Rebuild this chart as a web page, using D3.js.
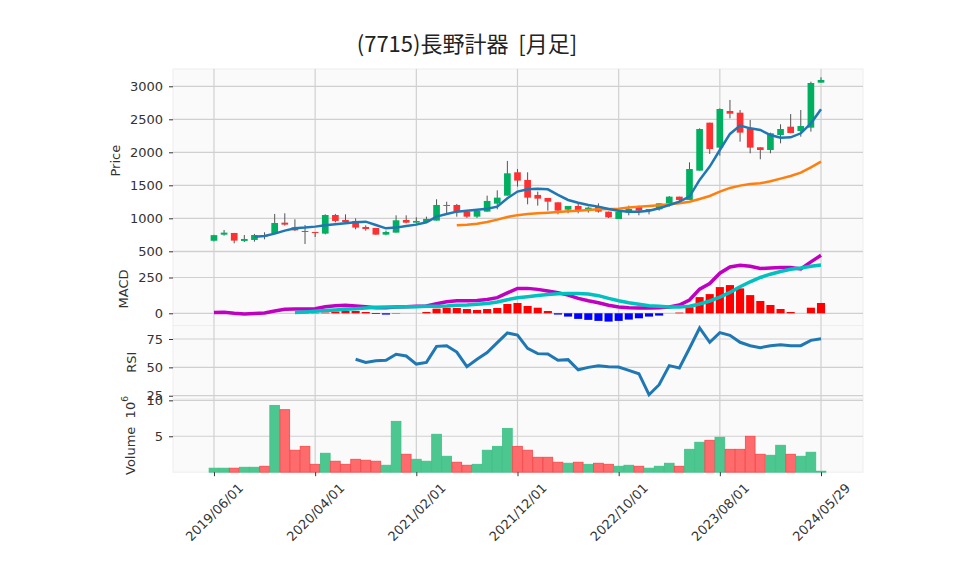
<!DOCTYPE html>
<html>
<head>
<meta charset="utf-8">
<script src="https://cdn.jsdelivr.net/npm/d3@7"></script>
<style>
  body { margin: 0; background: #fff; }
  text { font-family: "DejaVu Sans", sans-serif; fill: #333; }
  .title { font-family: "Noto Sans CJK JP", sans-serif; fill: #222; white-space: pre; }
</style>
</head>
<body>
<svg id="chart" width="958" height="575"></svg>
<script>
// monthly bars, last one is the partial month end
const dates = [
  "2019/06/01","2019/07/01","2019/08/01","2019/09/01","2019/10/01","2019/11/01","2019/12/01",
  "2020/01/01","2020/02/01","2020/03/01","2020/04/01","2020/05/01","2020/06/01","2020/07/01",
  "2020/08/01","2020/09/01","2020/10/01","2020/11/01","2020/12/01","2021/01/01","2021/02/01",
  "2021/03/01","2021/04/01","2021/05/01","2021/06/01","2021/07/01","2021/08/01","2021/09/01",
  "2021/10/01","2021/11/01","2021/12/01","2022/01/01","2022/02/01","2022/03/01","2022/04/01",
  "2022/05/01","2022/06/01","2022/07/01","2022/08/01","2022/09/01","2022/10/01","2022/11/01",
  "2022/12/01","2023/01/01","2023/02/01","2023/03/01","2023/04/01","2023/05/01","2023/06/01",
  "2023/07/01","2023/08/01","2023/09/01","2023/10/01","2023/11/01","2023/12/01","2024/01/01",
  "2024/02/01","2024/03/01","2024/04/01","2024/05/01","2024/05/29"
];
const opens = [660,752,778,657,672,740,768,934,864,808,793,768,1050,975,960,869,854,753,783,975,
  934,944,965,1187,1202,1101,1025,1101,1222,1343,1697,1581,1354,1308,1242,1131,1187,1116,1177,1101,
  990,1086,1177,1111,1136,1227,1328,1278,1722,2449,2071,2626,2600,2363,2076,2035,2262,2388,2323,2373,3055];
const highs = [750,823,778,747,763,788,1066,1076,985,899,793,1060,1066,1060,1000,894,854,813,1045,1045,
  1015,1025,1288,1252,1217,1101,1116,1343,1424,1869,1747,1697,1404,1308,1242,1187,1237,1177,1227,1101,
  1101,1192,1192,1141,1227,1338,1328,1848,2363,2449,2666,2793,2641,2490,2076,2298,2424,2580,2641,3070,3136];
const lows = [650,737,621,641,646,682,768,889,808,611,717,757,939,924,833,813,748,742,783,924,
  919,939,965,1076,1025,1005,1005,1101,1136,1343,1480,1212,1192,1116,1060,1076,1076,1086,1086,1005,
  990,1045,1045,1060,1116,1177,1237,1278,1722,1975,1949,2515,2161,1985,1894,1985,2136,2288,2237,2313,3055];
const closes = [745,783,662,687,747,728,929,904,818,798,783,1050,960,944,859,838,753,793,970,934,
  960,990,1202,1202,1101,1025,1116,1263,1313,1682,1571,1313,1298,1252,1116,1187,1116,1162,1101,1015,
  1101,1141,1116,1141,1227,1328,1278,1747,2353,2050,2656,2585,2298,2071,2035,2288,2353,2293,2398,3050,3096];
// volume in millions of shares
const volumes = [0.56,0.56,0.56,0.69,0.69,0.83,9.3,8.7,3.06,3.6,1.1,2.64,1.53,1.1,1.8,1.67,1.53,0.97,7.08,2.5,
  1.8,1.53,5.28,2.22,1.39,0.97,1.1,3.06,3.6,6.1,3.6,3.06,2.08,2.08,1.39,1.25,1.39,1.1,1.25,1.1,
  0.83,0.97,0.83,0.56,0.83,1.25,0.83,3.19,4.17,4.44,4.86,3.19,3.19,5.0,2.5,2.36,3.75,2.5,2.22,2.78,0.14];
const ma5 = [null,null,null,null,722,732,768,813,848,859,874,894,909,924,939,949,899,848,859,884,
  904,939,1025,1066,1101,1116,1131,1146,1177,1303,1405,1439,1449,1439,1354,1278,1237,1202,1177,1141,
  1116,1101,1101,1116,1151,1202,1252,1328,1581,1783,2035,2278,2404,2363,2338,2262,2222,2227,2288,2439,2651];
const ma25 = [null,null,null,null,null,null,null,null,null,null,null,null,null,null,null,null,null,null,null,null,
  null,null,null,null,894,904,919,944,980,1020,1048,1066,1076,1086,1096,1106,1116,1126,1136,1141,
  1146,1162,1177,1187,1197,1212,1227,1252,1293,1338,1404,1460,1495,1520,1530,1561,1601,1641,1692,1773,1858];
const macd = [5,7,0,-5,-2,2,16,28,30,30,32,46,53,56,51,46,39,39,44,46,
  49,51,67,81,88,88,90,97,109,142,174,174,167,155,144,127,104,88,74,56,
  44,39,37,37,39,44,58,93,169,208,280,324,336,329,313,317,319,319,310,359,405];
const signal = [null,null,null,null,null,null,null,null,5,9,14,19,23,28,32,37,42,44,44,46,
  46,49,49,51,56,58,63,69,79,95,108,116,125,132,137,139,139,134,123,104,
  88,74,63,53,49,44,44,49,65,86,113,146,185,220,250,273,292,308,317,329,338];
const hist = [null,null,null,null,null,null,null,null,0,2,3,5,12,16,16,9,-5,-9,-2,0,
  0,9,32,37,37,30,23,30,37,65,72,51,39,16,-9,-23,-39,-46,-53,-58,
  -53,-44,-35,-23,-16,0,5,42,113,134,183,197,174,127,86,58,30,9,0,39,72];
const rsi = [null,null,null,null,null,null,null,null,null,null,null,null,null,null,57.1,54.4,55.9,56.2,61.5,60,
  52.9,54.4,68.5,69.1,63.5,50.6,57.1,63,71.8,80.3,78.5,66.8,62.1,61.8,56.2,56.8,47.9,50,51.5,50.6,
  50.3,47.4,44.4,25.9,34.7,51.5,49.4,66.8,84.7,72.1,80.6,78.2,72.1,69.1,67.4,69.1,70,69.1,69.1,73.8,75.3];

const xTicks = [0, 10, 20, 30, 40, 50, 60];
const priceTicks = [500, 1000, 1500, 2000, 2500, 3000];
const macdTicks = [0, 250];
const rsiTicks = [25, 50, 75];
const volTicks = [5, 10];

const upColor = "#00b060", downColor = "#fe3032";
const volUp = "#4dc790", volDown = "#fd6b6c";

const left = 173, right = 863;
const panels = {
  price: { top: 69, bottom: 252.3 },
  macd: { top: 252.3, bottom: 325.6 },
  rsi: { top: 325.6, bottom: 398.9 },
  vol: { top: 398.9, bottom: 472.2 }
};

const svg = d3.select("#chart");
const idx = d3.range(dates.length);

const x = d3.scaleLinear().domain([-4.05, 64.15]).range([left, right]);
const step = x(1) - x(0);

const yPrice = d3.scaleLinear().domain([485, 3262]).range([panels.price.bottom, panels.price.top]);
const yMacd = d3.scaleLinear().domain([-86, 426]).range([panels.macd.bottom, panels.macd.top]);
const yRsi = d3.scaleLinear().domain([22.2, 86.8]).range([panels.rsi.bottom, panels.rsi.top]);
const yVol = d3.scaleLinear().domain([0, 10.2]).range([panels.vol.bottom, panels.vol.top]);

// panel backgrounds
Object.values(panels).forEach(p => {
  svg.append("rect")
    .attr("x", left).attr("y", p.top)
    .attr("width", right - left).attr("height", p.bottom - p.top)
    .attr("fill", "#fafafa")
    .attr("stroke", "#eeeeee")
    .attr("stroke-width", 1);
});

// grid + y axis for a panel
function drawAxis(scale, ticks, panel) {
  const g = svg.append("g");
  // horizontal grid
  g.selectAll(".hg").data(ticks).enter().append("line")
    .attr("x1", left).attr("x2", right)
    .attr("y1", d => scale(d)).attr("y2", d => scale(d))
    .attr("stroke", "#d0d0d0").attr("stroke-width", 1.2);
  // vertical grid
  g.selectAll(".vg").data(xTicks).enter().append("line")
    .attr("x1", d => x(d)).attr("x2", d => x(d))
    .attr("y1", panel.top).attr("y2", panel.bottom)
    .attr("stroke", "#d0d0d0").attr("stroke-width", 1.2);

  const axis = svg.append("g")
    .attr("transform", `translate(${left},0)`)
    .call(d3.axisLeft(scale).tickValues(ticks).tickSize(4).tickPadding(6).tickFormat(d3.format("d")));
  axis.select(".domain").remove();
  axis.selectAll("line").attr("stroke", "#333");
  axis.selectAll("text").style("font-size", "13px").attr("fill", "#333");
}

drawAxis(yPrice, priceTicks, panels.price);
drawAxis(yMacd, macdTicks, panels.macd);
drawAxis(yRsi, rsiTicks, panels.rsi);
drawAxis(yVol, volTicks, panels.vol);

// candles
const candles = svg.append("g");
candles.selectAll("line").data(idx).enter().append("line")
  .attr("x1", i => x(i)).attr("x2", i => x(i))
  .attr("y1", i => yPrice(highs[i])).attr("y2", i => yPrice(lows[i]))
  .attr("stroke", "#555").attr("stroke-width", 1);
const bodyW = step * 0.66;
candles.selectAll("rect").data(idx).enter().append("rect")
  .attr("x", i => x(i) - bodyW / 2)
  .attr("width", bodyW)
  .attr("y", i => yPrice(Math.max(opens[i], closes[i])))
  .attr("height", i => Math.max(1, Math.abs(yPrice(opens[i]) - yPrice(closes[i]))))
  .attr("fill", i => closes[i] >= opens[i] ? upColor : downColor);

// moving averages
const lineOf = (arr, scale) => d3.line()
  .defined(i => arr[i] != null)
  .x(i => x(i))
  .y(i => scale(arr[i]));

svg.append("path").datum(idx)
  .attr("d", lineOf(ma25, yPrice))
  .attr("fill", "none").attr("stroke", "#ff7f0e").attr("stroke-width", 2.5);
svg.append("path").datum(idx)
  .attr("d", lineOf(ma5, yPrice))
  .attr("fill", "none").attr("stroke", "#1f77b4").attr("stroke-width", 2.5);

// MACD histogram
const histW = step * 0.8;
svg.append("g").selectAll("rect").data(idx.filter(i => hist[i] != null)).enter().append("rect")
  .attr("x", i => x(i) - histW / 2)
  .attr("width", histW)
  .attr("y", i => yMacd(Math.max(0, hist[i])))
  .attr("height", i => Math.abs(yMacd(hist[i]) - yMacd(0)))
  .attr("fill", i => hist[i] >= 0 ? "#ff0000" : "#0000ff");

svg.append("path").datum(idx)
  .attr("d", lineOf(macd, yMacd))
  .attr("fill", "none").attr("stroke", "#c000c0").attr("stroke-width", 3.5);
svg.append("path").datum(idx)
  .attr("d", lineOf(signal, yMacd))
  .attr("fill", "none").attr("stroke", "#00c0c0").attr("stroke-width", 3.5);

// RSI
svg.append("path").datum(idx)
  .attr("d", lineOf(rsi, yRsi))
  .attr("fill", "none").attr("stroke", "#1f77b4").attr("stroke-width", 3);

// volume bars
const volW = step * 0.96;
svg.append("g").selectAll("rect").data(idx).enter().append("rect")
  .attr("x", i => x(i) - volW / 2)
  .attr("width", volW)
  .attr("y", i => yVol(volumes[i]))
  .attr("height", i => yVol(0) - yVol(volumes[i]))
  .attr("fill", i => closes[i] >= opens[i] ? volUp : volDown)
  .attr("stroke", i => closes[i] >= opens[i] ? "#3dbf85" : "#f5484a")
  .attr("stroke-width", 0.8);

// x axis
const xAxis = svg.append("g")
  .attr("transform", `translate(0,${panels.vol.bottom})`)
  .call(d3.axisBottom(x).tickValues(xTicks).tickSize(4).tickFormat(i => dates[i]));
xAxis.select(".domain").remove();
xAxis.selectAll("line").attr("stroke", "#333");
xAxis.selectAll("text")
  .style("font-size", "13px")
  .attr("fill", "#333")
  .attr("y", 0).attr("dy", 0)
  .attr("text-anchor", "middle")
  .attr("dominant-baseline", "central")
  .each(function () {
    const w = this.getComputedTextLength();
    const half = (w + 13) * Math.SQRT1_2 / 2;
    d3.select(this).attr("transform", `translate(0,${9 + half}) rotate(-45)`);
  });

// axis titles
function yTitle(txt, cx, cy) {
  return svg.append("text")
    .attr("transform", `translate(${cx},${cy}) rotate(-90)`)
    .attr("text-anchor", "middle")
    .attr("dominant-baseline", "central")
    .style("font-size", "13px")
    .style("white-space", "pre")
    .text(txt);
}
yTitle("Price", 115, (panels.price.top + panels.price.bottom) / 2);
yTitle("MACD", 123, (panels.macd.top + panels.macd.bottom) / 2);
yTitle("RSI", 131, (panels.rsi.top + panels.rsi.bottom) / 2);
const vt = yTitle("Volume  ", 130, (panels.vol.top + panels.vol.bottom) / 2);
vt.append("tspan").text("10");
vt.append("tspan").attr("dy", "-0.6em").style("font-size", "9px").text("6");

// title
svg.append("text")
  .attr("class", "title")
  .attr("x", 467).attr("y", 52)
  .attr("text-anchor", "middle")
  .style("font-size", "22px")
  .text("(7715)長野計器  [月足]");
</script>
</body>
</html>
